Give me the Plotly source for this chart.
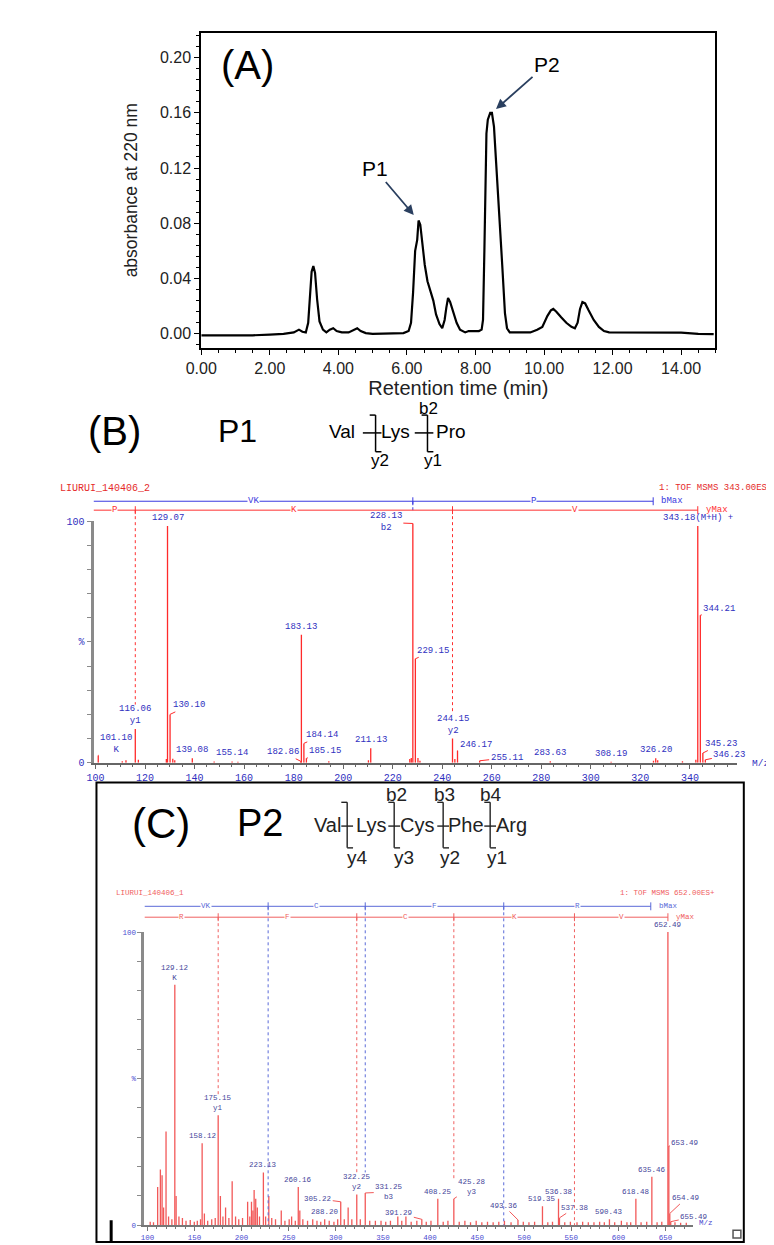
import plotly.graph_objects as go

W, H = 774, 1245

# ---------------- (A) RP-HPLC chromatogram ----------------
rt_min = [0.0, 0.5, 1.0, 1.5, 2.0, 2.4, 2.7, 2.85, 2.95, 3.05, 3.12, 3.18, 3.22, 3.27,
          3.32, 3.38, 3.45, 3.55, 3.65, 3.75, 3.85, 3.95, 4.1, 4.3, 4.45, 4.55, 4.65,
          4.8, 5.0, 5.5, 5.9, 6.05, 6.12, 6.18, 6.24, 6.3, 6.34, 6.39, 6.45, 6.52,
          6.6, 6.7, 6.77, 6.85, 6.95, 7.03, 7.1, 7.15, 7.2, 7.26, 7.35, 7.45, 7.55,
          7.7, 7.8, 7.95, 8.1, 8.18, 8.22, 8.26, 8.29, 8.32, 8.36, 8.43, 8.48, 8.54,
          8.6, 8.69, 8.78, 8.86, 8.92, 9.0, 9.3, 9.6, 9.8, 9.95, 10.1, 10.2, 10.27,
          10.36, 10.5, 10.65, 10.8, 10.9, 10.98, 11.05, 11.12, 11.2, 11.3, 11.45,
          11.6, 11.75, 11.9, 12.5, 13.0, 13.5, 14.0, 14.5, 14.95]
abs_220 = [-0.0012, -0.0013, -0.0013, -0.0011, -0.0006, 0.0, 0.001, 0.003, 0.0015,
           0.001, 0.008, 0.03, 0.045, 0.049, 0.044, 0.025, 0.009, 0.003, 0.001, 0.003,
           0.004, 0.002, 0.001, 0.001, 0.003, 0.004, 0.002, 0.0005, 0.0, 0.0, 0.0005,
           0.002, 0.008, 0.03, 0.06, 0.068, 0.082, 0.079, 0.066, 0.05, 0.038, 0.03,
           0.024, 0.014, 0.007, 0.004, 0.01, 0.019, 0.026, 0.023, 0.015, 0.008, 0.003,
           0.001, 0.002, 0.002, 0.002, 0.003, 0.01, 0.06, 0.1, 0.145, 0.155, 0.16,
           0.16, 0.15, 0.125, 0.09, 0.05, 0.015, 0.004, 0.001, 0.001, 0.001, 0.003,
           0.005, 0.013, 0.017, 0.018, 0.016, 0.012, 0.008, 0.005, 0.004, 0.008, 0.018,
           0.023, 0.022, 0.017, 0.01, 0.005, 0.002, 0.001, 0.001, 0.0012, 0.001,
           0.0008, 0.0, -0.0003]

# ---------------- (B) P1 MS/MS ----------------
p1_mz = [101.10, 110.8, 112.3, 116.06, 117.3, 128.6, 129.07, 130.10, 131.2, 132.0,
         139.08, 147.9, 155.14, 157.5, 182.86, 183.13, 184.14, 185.15, 194.2, 210.2,
         211.13, 226.9, 227.5, 228.13, 229.15, 230.2, 231.0, 244.15, 245.1, 246.17,
         255.11, 283.63, 308.19, 325.3, 326.20, 327.0, 337.0, 342.4, 343.18, 344.21,
         345.23, 346.23]
p1_int = [3.0, 0.6, 1.0, 14.0, 1.2, 1.5, 98.0, 20.0, 1.6, 1.0, 1.8, 0.5, 0.5, 0.4,
          0.6, 53.0, 8.0, 1.8, 0.6, 1.0, 6.0, 1.5, 2.0, 99.0, 43.0, 2.0, 0.8, 10.0,
          1.5, 5.0, 0.8, 0.6, 0.4, 0.8, 1.8, 1.0, 0.6, 1.2, 98.0, 61.0, 4.0, 1.2]
p1_lab_mz = [101.10, 116.06, 129.07, 130.10, 139.08, 155.14, 182.86, 183.13, 184.14,
             185.15, 211.13, 228.13, 229.15, 244.15, 246.17, 255.11, 283.63, 308.19,
             326.20, 343.18, 344.21, 345.23, 346.23]
p1_lab_txt = ["101.10<br>K", "116.06<br>y1", "129.07", "130.10", "139.08", "155.14",
              "182.86", "183.13", "184.14", "185.15", "211.13", "228.13<br>b2",
              "229.15", "244.15<br>y2", "246.17", "255.11", "283.63", "308.19",
              "326.20", "343.18(M+H) +", "344.21", "345.23", "346.23"]
p1_b_frag = [228.13]
p1_b_max = 325.17
p1_b_res = ["VK", "P"]
p1_y_frag = [116.06, 244.15]
p1_y_max = 343.18
p1_y_res = ["P", "K", "V"]

# ---------------- (C) P2 MS/MS ----------------
p2_mz = [103, 106.5, 110.9, 113.8, 115.6, 117.2, 119.8, 122.5, 126.0, 129.12, 130.5,
         133.5, 137.2, 141.0, 145.5, 149.8, 153.0, 156.4, 158.12, 160.5, 164.0, 168.3,
         172.0, 175.15, 177.5, 180.2, 183.0, 186.5, 190.0, 193.6, 197.0, 201.0, 206.4,
         208.7, 210.5, 212.0, 213.3, 215.0, 216.7, 219.0, 223.13, 225.5, 228.9, 232.0,
         236.0, 242.1, 246.0, 250.5, 253.1, 257.0, 260.16, 261.8, 265.0, 270.0, 275.5,
         280.0, 284.0, 288.20, 293.0, 298.0, 302.0, 305.22, 309.0, 313.1, 317.0,
         322.25, 326.0, 331.25, 336.0, 342.0, 348.0, 353.0, 358.0, 365.8, 370.0,
         374.4, 380.0, 386.0, 391.29, 396.0, 401.0, 408.25, 414.0, 419.0, 425.28,
         431.0, 437.0, 443.0, 449.0, 455.0, 461.0, 467.0, 473.0, 479.0, 486.0, 493.36,
         499.0, 505.0, 511.0, 519.35, 525.0, 530.0, 536.38, 537.38, 543.0, 549.0,
         556.0, 562.0, 568.0, 574.0, 580.0, 585.0, 590.43, 596.0, 603.1, 609.0, 613.0,
         618.48, 624.0, 630.0, 635.46, 641.0, 646.0, 652.49, 653.49, 654.49, 655.49,
         660.0, 666.0, 672.0]
p2_int = [1.2, 1.0, 13, 19, 17, 6, 32, 3, 2, 82, 10, 3, 2.5, 1.5, 1.8, 1.2, 1.5, 2, 28,
          4, 1.5, 2, 2.5, 37.5, 10, 3, 6, 2.5, 15, 3, 2, 2.5, 8, 3, 8, 5, 12, 9, 6, 3,
          18, 3, 10, 2.5, 2, 5, 1.5, 2, 3, 1.5, 13, 5, 2, 1.5, 2, 1.5, 1.2, 2, 1.5,
          1.2, 2, 8, 2, 6, 2, 10.5, 2, 11, 1.5, 1.5, 1.5, 1.2, 1.5, 3, 1.5, 3, 1.2,
          1.5, 2, 1.2, 1.5, 9, 1.2, 1.5, 9, 1.2, 1.5, 1, 1.5, 1, 1.2, 1, 1.2, 1.5, 1,
          1.8, 1.2, 1, 1.2, 6.5, 1, 1.2, 9, 2.5, 1, 1.2, 1, 1.2, 1, 1, 1.2, 1, 2, 1,
          1.5, 1, 1, 9, 1, 1.2, 16.5, 1, 1.2, 100, 27, 4, 1.2, 1, 0.8, 0.8]
p2_lab_mz = [129.12, 158.12, 175.15, 223.13, 260.16, 288.20, 305.22, 322.25, 331.25,
             391.29, 408.25, 425.28, 493.36, 519.35, 536.38, 537.38, 590.43, 618.48,
             635.46, 652.49, 653.49, 654.49, 655.49]
p2_lab_txt = ["129.12<br>K", "158.12", "175.15<br>y1", "223.13", "260.16", "288.20",
              "305.22", "322.25<br>y2", "331.25<br>b3", "391.29", "408.25",
              "425.28<br>y3", "493.36", "519.35", "536.38", "537.38", "590.43",
              "618.48", "635.46", "652.49", "653.49", "654.49", "655.49"]
p2_b_frag = [228.17, 331.25, 478.25]
p2_b_max = 634.3
p2_b_res = ["VK", "C", "F", "R"]
p2_y_frag = [175.15, 322.25, 425.28, 553.3]
p2_y_max = 652.49
p2_y_res = ["R", "F", "C", "K", "V"]

SANS = "Liberation Sans, Arial, sans-serif"
NARROW = "Liberation Sans Narrow, Arial Narrow, Liberation Sans, sans-serif"
MONO = "Liberation Mono, Courier New, monospace"


def fx(x):
    return x / W


def fy(y):
    return 1 - y / H


shapes = []
annotations = []


def seg(x0, y0, x1, y1, color="black", width=1.5, dash=None):
    shapes.append(dict(type="line", xref="paper", yref="paper",
                       x0=fx(x0), y0=fy(y0), x1=fx(x1), y1=fy(y1),
                       line=dict(color=color, width=width, dash=dash)))


def txt(x, y, s, size, color="black", family=SANS, xanchor="center"):
    annotations.append(dict(xref="paper", yref="paper", x=fx(x), y=fy(y), text=s,
                            showarrow=False, xanchor=xanchor, yanchor="middle",
                            font=dict(size=size, color=color, family=family)))


fig = go.Figure()

# ---- panel A ----
fig.add_trace(go.Scatter(x=rt_min, y=abs_220, mode="lines", xaxis="x", yaxis="y",
                         line=dict(color="black", width=2.2), showlegend=False))
txt(228, 53, "(A)", 40)
annotations.append(dict(x=6.2, y=0.086, xref="x", yref="y", text="P1", ax=-39, ay=-46,
                        showarrow=True, arrowhead=2, arrowsize=1.1, arrowwidth=1.8,
                        font=dict(size=21, family=SANS, color="black")))
annotations.append(dict(x=8.6, y=0.1627, xref="x", yref="y", text="P2", ax=51, ay=-45,
                        showarrow=True, arrowhead=2, arrowsize=1.1, arrowwidth=1.8,
                        font=dict(size=21, family=SANS, color="black")))


# ---- spectrum helpers ----
def spec_axes(n, x0, x1, yb, yt, xr, dtick, minor, tfont, axcol):
    fig.update_layout(**{
        f"xaxis{n}": dict(domain=[fx(x0), fx(x1)], range=xr, anchor=f"y{n}",
                          showline=True, linecolor=axcol, linewidth=2, ticks="outside",
                          ticklen=4, tickcolor=axcol, tick0=100, dtick=dtick,
                          tickfont=tfont, showgrid=False, zeroline=False,
                          minor=dict(ticks="outside", ticklen=2, dtick=minor,
                                     tickcolor=axcol)),
        f"yaxis{n}": dict(domain=[fy(yb), fy(yt)], range=[0, 100], anchor=f"x{n}",
                          showline=True, linecolor="#8a8a8a", linewidth=3,
                          ticks="outside", ticklen=4, tickcolor="#8a8a8a",
                          tickmode="array", tickvals=list(range(0, 101, 10)),
                          ticktext=["0", "", "", "", "", "%", "", "", "", "", "100"],
                          tickfont=tfont, showgrid=False, zeroline=False),
    })


def spectrum(n, mz, inten, lab_mz, lab_txt, leaders, bfr, bmax, bres, yfr, ymax, yres,
             px_zero, px_full, px_blue, px_red, peak_col, blue, red, lab_col, lab_size):
    xa, ya = f"x{n}", f"y{n}"
    ydom = f"y{n} domain"
    span = px_zero - px_full

    def dom(pix):
        return (px_zero - pix) / span

    xs, ys = [], []
    for m, h in zip(mz, inten):
        xs += [m, m, None]
        ys += [0, h, None]
    fig.add_trace(go.Scatter(x=xs, y=ys, mode="lines", xaxis=xa, yaxis=ya,
                             line=dict(color=peak_col, width=1.3), showlegend=False))

    lab_tops = {}
    for m, t in zip(lab_mz, lab_txt):
        h = inten[min(range(len(mz)), key=lambda i: abs(mz[i] - m))]
        nlines = t.count("<br>") + 1
        lab_tops[m] = h / 100 + (2 + nlines * lab_size * 1.25) / span
        base = dict(x=m, y=h, xref=xa, yref=ya, text=t,
                    font=dict(size=lab_size, color=lab_col, family=MONO))
        key = t.split("<br>")[0][:6]
        if key in leaders:
            dx, dy = leaders[key]
            base.update(showarrow=True, ax=dx, ay=dy, arrowhead=0, arrowwidth=1,
                        arrowcolor=peak_col, standoff=0, startstandoff=0)
        else:
            base.update(showarrow=False, yanchor="bottom", yshift=1)
        annotations.append(base)

    x_lo = fig.layout[f"xaxis{n}"].range[0]
    for frags, end, res, pix, col, endtxt in ((bfr, bmax, bres, px_blue, blue, "bMax"),
                                            (yfr, ymax, yres, px_red, red, "yMax")):
        yy = dom(pix)
        tk = 4 / span
        shapes.append(dict(type="line", xref=xa, yref=ydom, x0=x_lo, x1=end, y0=yy,
                           y1=yy, line=dict(color=col, width=1)))
        pts = [x_lo] + frags + [end]
        for a, b, r in zip(pts[:-1], pts[1:], res):
            annotations.append(dict(x=(a + b) / 2, y=yy, xref=xa, yref=ydom, text=r,
                                    showarrow=False, bgcolor="white", borderpad=0,
                                    font=dict(size=lab_size, color=col, family=MONO),
                                    xanchor="center", yanchor="middle"))
        for f in frags:
            shapes.append(dict(type="line", xref=xa, yref=ydom, x0=f, x1=f,
                               y0=yy - tk, y1=yy + tk, line=dict(color=col, width=1)))
            stop = 0
            for m in lab_mz:
                if abs(m - f) < 0.3:
                    stop = lab_tops[m]
            stop = min(stop, yy - 10 / span)
            shapes.append(dict(type="line", xref=xa, yref=ydom, x0=f, x1=f,
                               y0=yy, y1=stop, line=dict(color=col, width=1, dash="dot")))
        shapes.append(dict(type="line", xref=xa, yref=ydom, x0=end, x1=end,
                           y0=yy - tk, y1=yy + tk, line=dict(color=col, width=1)))
        annotations.append(dict(x=end, y=yy, xref=xa, yref=ydom, text=endtxt,
                                showarrow=False, xanchor="left", xshift=6,
                                yanchor="middle",
                                font=dict(size=lab_size, color=col, family=MONO)))


# ---- panel B ----
blue_txt = "#2f2fc0"
spec_axes(2, 71, 728, 757, 513, [99.2, 359.0], 20, 5,
          dict(size=10, color=blue_txt, family=MONO), "#666666")
txt(92, 422, "(B)", 40)
txt(218, 422, "P1", 32)
txt(325, 423, "Val", 19)
txt(379, 423, "Lys", 19)
txt(436, 423, "Pro", 19)
for bx in (359, 412):
    seg(bx, 406, bx, 443)
    seg(bx - 6, 406, bx, 406)
    seg(bx, 443, bx + 6, 443)
    seg(bx - 13, 424, bx + 6, 424)
txt(413, 399, "b2", 17)
txt(364, 452, "y2", 17)
txt(418, 452, "y1", 17)
txt(35, 480, "LIURUI_140406_2", 10, "#e52a2a", MONO, "left")
txt(766, 480, "1: TOF MSMS 343.00ES+", 9, "#e52a2a", MONO, "right")
txt(741, 758, "M/z", 9.5, blue_txt, MONO, "left")
spectrum(2, p1_mz, p1_int, p1_lab_mz, p1_lab_txt,
         {"101.10": (18, -11), "130.10": (19, -9), "182.86": (-18, -9),
          "184.14": (18, -8), "185.15": (19, -7), "228.13": (-27, -1),
          "229.15": (18, -8), "246.17": (18, -6), "255.11": (27, -3),
          "344.21": (19, -6), "345.23": (18, -9), "346.23": (24, -5)},
         p1_b_frag, p1_b_max, p1_b_res, p1_y_frag, p1_y_max, p1_y_res,
         757, 513, 493, 502, "#ff2a2a", "#3a3ae0", "#ff3030", blue_txt, 9)

# ---- panel C ----
c_txt = "#45459a"
spec_axes(3, 123, 683, 1224, 928, [96.9, 679.0], 50, 10,
          dict(size=7.5, color="#4b4bd0", family=MONO), "#777777")
shapes.append(dict(type="rect", xref="paper", yref="paper", x0=fx(74), x1=fx(735),
                   y0=fy(1241), y1=fy(777), line=dict(color="black", width=2)))
seg(89, 1219, 89, 1240, width=3)
shapes.append(dict(type="rect", xref="paper", yref="paper", x0=fx(724), x1=fx(732),
                   y0=fy(1237), y1=fy(1229), line=dict(color="#555555", width=1.5)))
txt(140, 818, "(C)", 42, family=NARROW)
txt(241, 818, "P2", 38, family=NARROW)
for s, cx in zip(["Val", "Lys", "Cys", "Phe", "Arg"], [310, 354, 401, 451, 498]):
    txt(cx, 820, s, 20, "#222222", NARROW)
for bx in (330, 378, 428, 476):
    seg(bx, 797, bx, 843, "#222222", 1.4)
    seg(bx - 6, 797, bx, 797, "#222222", 1.4)
    seg(bx, 843, bx + 6, 843, "#222222", 1.4)
    seg(bx - 6, 821, bx + 6, 821, "#222222", 1.4)
for s, cx in zip(["b2", "b3", "b4"], [380, 429, 477]):
    txt(cx, 789, s, 19, "#222222", NARROW)
for s, cx in zip(["y4", "y3", "y2", "y1"], [341, 388, 435, 483]):
    txt(cx, 853, s, 19, "#222222", NARROW)
txt(92, 889, "LIURUI_140406_1", 7.5, "#f06060", MONO, "left")
txt(708, 889, "1: TOF MSMS 652.00ES+", 7.5, "#f06060", MONO, "right")
txt(687, 1222, "M/z", 7.5, "#4b4bd0", MONO, "left")
spectrum(3, p2_mz, p2_int, p2_lab_mz, p2_lab_txt,
         {"305.22": (-23, -3), "331.25": (24, -1), "391.29": (-23, -6),
          "425.28": (18, -12), "493.36": (-14, -14), "537.38": (15, -10),
          "653.49": (16, -3), "654.49": (16, -15), "655.49": (23, -5)},
         p2_b_frag, p2_b_max, p2_b_res, p2_y_frag, p2_y_max, p2_y_res,
         1224, 928, 902, 913, "#f25858", "#5a6ad8", "#f06060", c_txt, 7.5)

fig.update_layout(
    width=W, height=H, autosize=False,
    margin=dict(l=0, r=0, t=0, b=0),
    paper_bgcolor="white", plot_bgcolor="white",
    showlegend=False,
    xaxis=dict(domain=[fx(181), fx(706)], range=[0, 15], anchor="y",
               showline=True, linecolor="black", linewidth=2, mirror=True,
               ticks="outside", ticklen=5, tickwidth=1.2, tickcolor="black",
               tick0=0, dtick=2, tickformat=".2f",
               tickfont=dict(size=16, family=SANS, color="#222222"),
               minor=dict(ticks="outside", ticklen=3, dtick=0.5, tickcolor="black"),
               title=dict(text="Retention time (min)", standoff=0,
                          font=dict(size=20, family=SANS, color="#222222")),
               showgrid=False, zeroline=False),
    yaxis=dict(domain=[fy(338), fy(20)], range=[-0.0101, 0.2179], anchor="x",
               showline=True, linecolor="black", linewidth=2, mirror=True,
               ticks="outside", ticklen=5, tickwidth=1.2, tickcolor="black",
               tick0=0, dtick=0.04, tickformat=".2f",
               tickfont=dict(size=16, family=SANS, color="#222222"),
               minor=dict(ticks="outside", ticklen=3, dtick=0.008, tickcolor="black"),
               title=dict(text="absorbance at 220 nm", standoff=18,
                          font=dict(size=17.5, family=SANS, color="#222222")),
               showgrid=False, zeroline=False),
    shapes=shapes, annotations=annotations,
)

fig.write_html("out.html")
